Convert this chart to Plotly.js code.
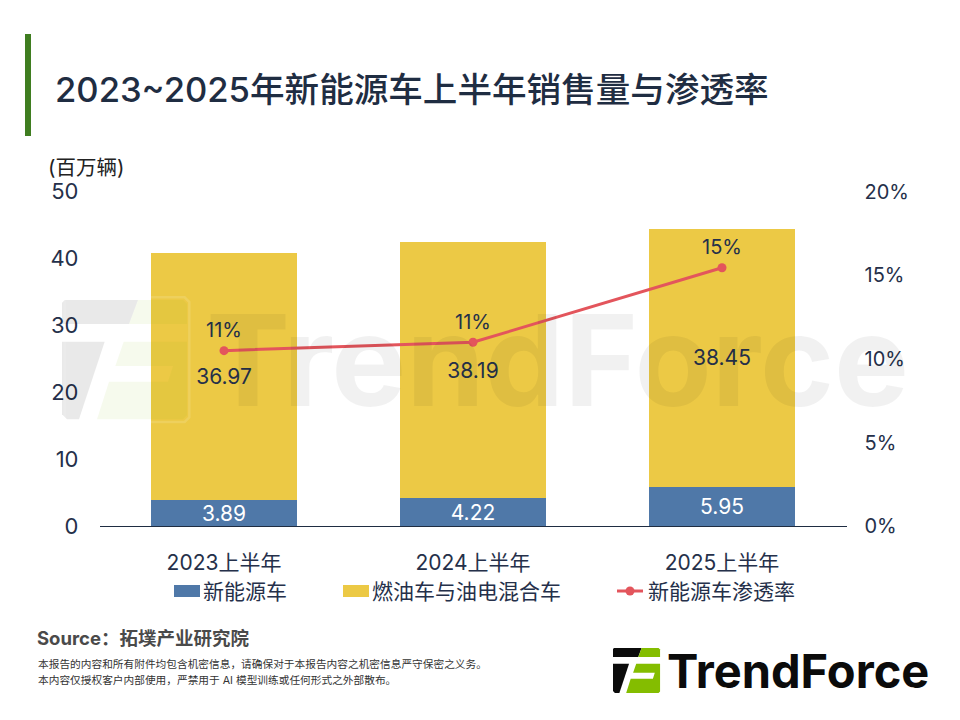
<!DOCTYPE html>
<html><head><meta charset="utf-8">
<script src="https://cdn.plot.ly/plotly-3.0.1.min.js"></script>
<style>html,body{margin:0;padding:0;background:#fff}#c{width:960px;height:720px}</style>
</head><body><div id="c"></div>
<script>
const categories = ["2023上半年","2024上半年","2025上半年"];
const nevValues = [3.89,4.22,5.95];
const iceValues = [36.97,38.19,38.45];
const penetration = [10.5,11.0,15.45];
const penetrationLabels = ["11%","11%","15%"];
const seriesNames = ["新能源车","燃油车与油电混合车","新能源车渗透率"];
const titleText = "2023~2025年新能源车上半年销售量与渗透率";
const unitText = "(百万辆)";
const sourceText = "Source：拓墣产业研究院";
const note1 = "本报告的内容和所有附件均包含机密信息，请确保对于本报告内容之机密信息严守保密之义务。";
const note2 = "本内容仅授权客户内部使用，严禁用于 AI 模型训练或任何形式之外部散布。";
const BLUE="#4f78a8", YEL="#ecc945", RED="#e3555c", INK="#25304a";
const FONT='Inter, "Noto Sans CJK SC", sans-serif';
const W=960,H=720;
const px=x=>x/W, py=y=>1-y/H;
const P=pts=>'M'+pts.map(p=>px(p[0]).toFixed(5)+','+py(p[1]).toFixed(5)).join(' L')+' Z';

function logo(ox,oy,s,black,green,edge){
  const T=(x,y)=>[ox+(x-37)*s,oy+(y-30)*s];
  const out=[];
  const add=(pts,c)=>out.push({type:'path',xref:'paper',yref:'paper',path:P(pts.map(p=>T(p[0],p[1]))),fillcolor:c,line:{width:0},layer:'above'});
  add([[45,30],[265,30],[238,102],[37,102],[37,38]],black);
  add([[37,155],[165,155],[88,388],[52,388],[37,373]],black);
  add([[265,30],[400,30],[412,42],[412,102],[238,102]],green);
  add([[222,155],[412,155],[412,376],[400,388],[142,388],[178,275],[355,275],[370,228],[197,228]],green);
  if(edge){out.push({type:'path',xref:'paper',yref:'paper',layer:'above',fillcolor:'rgba(0,0,0,0)',
    path:P([T(45,22),T(405,22),T(419,36),T(419,382),T(405,396),T(45,396)]),line:{color:edge,width:2.5}});}
  return out;
}
function txt(text,x,y,size,color,anchor,extra){
  return Object.assign({xref:'paper',yref:'paper',x:px(x),y:py(y),text:text,showarrow:false,xanchor:anchor||'left',yanchor:'middle',
    font:{family:FONT,size:size,color:color}},extra||{});
}
const traces=[
 {type:'bar',name:seriesNames[0],x:categories,y:nevValues,marker:{color:BLUE},text:nevValues.map(v=>v.toFixed(2)),
  textposition:'inside',insidetextanchor:'middle',textangle:0,textfont:{family:FONT,size:21,color:'#ffffff'},constraintext:'none',cliponaxis:false,hoverinfo:'skip'},
 {type:'bar',name:seriesNames[1],x:categories,y:iceValues,marker:{color:YEL},text:iceValues.map(v=>v.toFixed(2)),
  textposition:'inside',insidetextanchor:'middle',textangle:0,textfont:{family:FONT,size:21,color:INK},constraintext:'none',cliponaxis:false,hoverinfo:'skip'},
 {type:'scatter',mode:'lines+markers',name:seriesNames[2],x:categories,y:penetration,yaxis:'y2',
  line:{color:RED,width:3},marker:{color:RED,size:9},cliponaxis:false,hoverinfo:'skip'},
 {type:'scatter',mode:'markers+text',name:seriesNames[2]+"标签",x:categories,y:penetration,yaxis:'y2',
  marker:{color:'rgba(0,0,0,0)',size:12},text:penetrationLabels,textposition:'top center',
  textfont:{family:FONT,size:20,color:INK},cliponaxis:false,hoverinfo:'skip'}
];
const shapes=[
 {type:'rect',xref:'paper',yref:'paper',x0:px(25),x1:px(31),y0:py(34),y1:py(136),fillcolor:'#3f7d20',line:{width:0}},
 {type:'rect',xref:'paper',yref:'paper',x0:px(174),x1:px(200),y0:py(585),y1:py(597),fillcolor:BLUE,line:{width:0}},
 {type:'rect',xref:'paper',yref:'paper',x0:px(343),x1:px(369),y0:py(585),y1:py(597),fillcolor:YEL,line:{width:0}},
 {type:'line',xref:'paper',yref:'paper',x0:px(617),x1:px(643),y0:py(591),y1:py(591),line:{color:RED,width:3}},
 {type:'circle',xref:'paper',yref:'paper',x0:px(625.5),x1:px(634.5),y0:py(586.5),y1:py(595.5),fillcolor:RED,line:{width:0}},
].concat(
 logo(62,300,1/3,'rgba(0,0,0,0.085)','rgba(130,185,0,0.07)','rgba(255,255,255,0.13)'),
 logo(613,648,0.1255,'#0b0b0b','#84bd00',null)
);
const annotations=[
 txt("TrendForce",204,360,126,'rgba(0,0,0,0.055)','left',{font:{family:FONT,size:126,color:'rgba(0,0,0,0.055)',weight:700}}),
 txt(titleText,53,89,34.6,'#1f2d42','left',{font:{family:FONT,size:34.6,color:'#1f2d42',weight:500}}),
 txt(unitText,46,167,20.5,'#222222'),
 txt(seriesNames[0],201,591,21,INK),
 txt(seriesNames[1],370,591,21,INK),
 txt(seriesNames[2],646,591,21,INK),
 txt(sourceText,35,638,18.5,'#4a4a4a','left',{font:{family:FONT,size:18.5,color:'#4a4a4a',weight:700}}),
 txt(note1,36,664,10.7,'#333333'),
 txt(note2,36,680,10.7,'#333333'),
 txt("TrendForce",665,670,47,'#0b0b0b','left',{font:{family:FONT,size:47,color:'#0b0b0b',weight:700}})
];
const layout={
 width:W,height:H,margin:{l:0,r:0,t:0,b:0},paper_bgcolor:'#fff',plot_bgcolor:'rgba(0,0,0,0)',
 barmode:'stack',bargap:0.414,showlegend:false,font:{family:FONT},
 xaxis:{domain:[px(99.5),px(846.5)],anchor:'y',type:'category',showline:true,linecolor:'#1f2d42',linewidth:1,ticks:'',showgrid:false,
  ticklabelstandoff:17,tickfont:{family:FONT,size:21,color:INK}},
 yaxis:{domain:[py(526.4),py(191.6)],range:[0,50],dtick:10,showgrid:false,zeroline:false,ticks:'',showline:false,
  ticklabelstandoff:20,tickfont:{family:FONT,size:22,color:INK}},
 yaxis2:{domain:[py(526.4),py(191.6)],anchor:'x',overlaying:'y',side:'right',range:[0,20],dtick:5,ticksuffix:'%',showgrid:false,zeroline:false,ticks:'',showline:false,
  ticklabelstandoff:17,tickfont:{family:FONT,size:20,color:INK}},
 shapes:shapes,annotations:annotations
};
Plotly.newPlot('c',traces,layout,{displayModeBar:false,staticPlot:true});
</script></body></html>
